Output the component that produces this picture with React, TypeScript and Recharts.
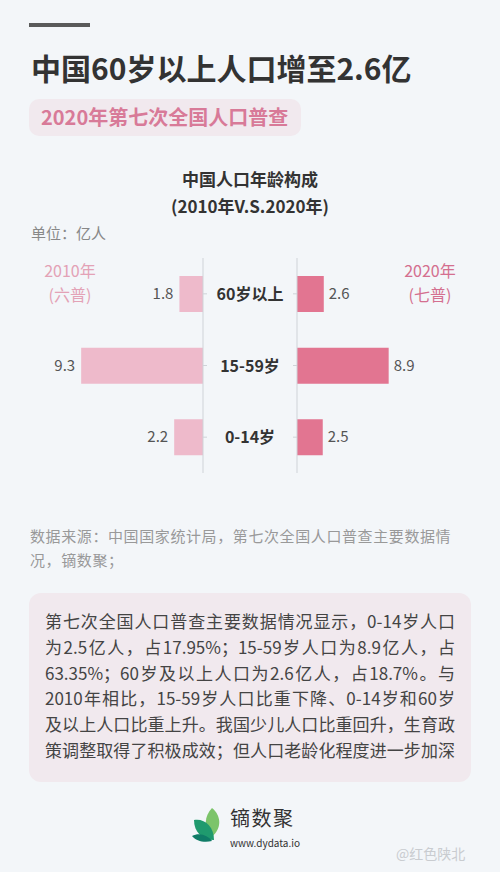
import { BarChart, Bar, XAxis, YAxis, LabelList } from "recharts";

const categories = ["60岁以上", "15-59岁", "0-14岁"];
const pop2010 = [1.8, 9.3, 2.2];
const pop2020 = [2.6, 8.9, 2.5];

const data = categories.map((name, i) => ({ name, v2010: pop2010[i], v2020: pop2020[i] }));

const descLines = [
  "第七次全国人口普查主要数据情况显示，0-14岁人口",
  "为2.5亿人，占17.95%；15-59岁人口为8.9亿人，占",
  "63.35%；60岁及以上人口为2.6亿人，占18.7%。与",
  "2010年相比，15-59岁人口比重下降、0-14岁和60岁",
  "及以上人口比重上升。我国少儿人口比重回升，生育政",
  "策调整取得了积极成效；但人口老龄化程度进一步加深",
];

const FONT = '"Noto Sans CJK SC", "Noto Sans", sans-serif';
const LIGHT = "#eebacb";
const DARK = "#e27591";

function LeftLabel(props: any) {
  const { x, y, width, height, value } = props;
  const left = Math.min(x, x + width);
  return (
    <text x={left - 6} y={y + height / 2} dy={5} textAnchor="end" fontSize={15} fill="#555" fontFamily={FONT}>
      {value}
    </text>
  );
}

function RightLabel(props: any) {
  const { x, y, width, height, value } = props;
  const right = Math.max(x, x + width);
  return (
    <text x={right + 5} y={y + height / 2} dy={5} textAnchor="start" fontSize={15} fill="#555" fontFamily={FONT}>
      {value}
    </text>
  );
}

function CenterTick(props: any) {
  const { y, payload } = props;
  return (
    <text x={250} y={y} dy={6} textAnchor="middle" fontSize={16} fontWeight={700} fill="#333" fontFamily={FONT}>
      {payload.value}
    </text>
  );
}

function Leaves() {
  return (
    <svg width={32} height={36} viewBox="0 0 32 36" style={{ position: "absolute", left: 192, top: 806 }}>
      <path d="M20 2 C30 10 30 24 18 32 C12 22 12 10 20 2 Z" fill="#7cc46a" />
      <path d="M2 14 C12 12 22 20 22 34 C10 34 2 26 2 14 Z" fill="#1f9a6e" />
      <path d="M0 30 C8 26 16 30 20 35 C12 37 4 35 0 30 Z" fill="#0f7c67" />
    </svg>
  );
}

export default function App() {
  return (
    <div
      style={{
        position: "absolute",
        left: 0,
        top: 0,
        width: 500,
        height: 872,
        background: "#f3f6f9",
        fontFamily: FONT,
        overflow: "hidden",
      }}
    >
      <div style={{ position: "absolute", left: 29, top: 23, width: 61, height: 4, background: "#5a5a5a" }} />
      <div style={{ position: "absolute", left: 31, top: 46, fontSize: 30, fontWeight: 700, color: "#333", lineHeight: "42px" }}>
        中国60岁以上人口增至2.6亿
      </div>
      <div
        style={{
          position: "absolute",
          left: 29,
          top: 99,
          width: 272,
          height: 37,
          borderRadius: 10,
          background: "#f1e9ee",
        }}
      />
      <div style={{ position: "absolute", left: 41, top: 103, fontSize: 20, fontWeight: 700, color: "#d87a98", lineHeight: "28px" }}>
        2020年第七次全国人口普查
      </div>

      <div style={{ position: "absolute", left: 0, width: 500, top: 165, textAlign: "center", fontSize: 17, fontWeight: 700, color: "#333", lineHeight: "27px" }}>
        <div>中国人口年龄构成</div>
        <div>(2010年V.S.2020年)</div>
      </div>
      <div style={{ position: "absolute", left: 31, top: 221, fontSize: 15, color: "#888", lineHeight: "24px" }}>单位：亿人</div>

      <div style={{ position: "absolute", left: 20, width: 100, top: 258, textAlign: "center", fontSize: 16, color: "#e3a2b6", lineHeight: "24px" }}>
        <div>2010年</div>
        <div>(六普)</div>
      </div>
      <div style={{ position: "absolute", left: 380, width: 100, top: 258, textAlign: "center", fontSize: 16, color: "#d46f8f", lineHeight: "24px" }}>
        <div>2020年</div>
        <div>(七普)</div>
      </div>

      <div style={{ position: "absolute", left: 0, top: 248 }}>
        <BarChart width={297} height={235} data={data} layout="vertical" margin={{ top: 10, right: 0, bottom: 10, left: 72 }}>
          <XAxis type="number" domain={[0, 10]} reversed hide />
          <YAxis
            type="category"
            dataKey="name"
            orientation="right"
            width={94}
            axisLine={{ stroke: "#cfd3d8" }}
            tickLine={{ stroke: "#cfd3d8" }}
            tickSize={4}
            tick={<CenterTick />}
          />
          <Bar dataKey="v2010" fill={LIGHT} barSize={36} isAnimationActive={false}>
            <LabelList dataKey="v2010" content={<LeftLabel />} />
          </Bar>
        </BarChart>
      </div>

      <div style={{ position: "absolute", left: 287, top: 248 }}>
        <BarChart width={213} height={235} data={data} layout="vertical" margin={{ top: 10, right: 100, bottom: 10, left: 0 }}>
          <XAxis type="number" domain={[0, 10]} hide />
          <YAxis
            type="category"
            dataKey="name"
            orientation="left"
            width={10}
            axisLine={{ stroke: "#cfd3d8" }}
            tickLine={{ stroke: "#cfd3d8" }}
            tickSize={4}
            tick={() => <g />}
          />
          <Bar dataKey="v2020" fill={DARK} barSize={36} isAnimationActive={false}>
            <LabelList dataKey="v2020" content={<RightLabel />} />
          </Bar>
        </BarChart>
      </div>

      <div style={{ position: "absolute", left: 30, top: 524, fontSize: 15, color: "#999", lineHeight: "24px", letterSpacing: 0.6 }}>
        <div>数据来源：中国国家统计局，第七次全国人口普查主要数据情</div>
        <div>况，镝数聚；</div>
      </div>

      <div
        style={{
          position: "absolute",
          left: 29,
          top: 593,
          width: 442,
          height: 189,
          borderRadius: 12,
          background: "#f1e9ee",
        }}
      />
      <div style={{ position: "absolute", left: 45, top: 608, width: 410, fontSize: 17, color: "#444", lineHeight: "25.8px" }}>
        {descLines.map((l, i) => (
          <div key={i} style={{ textAlign: "justify", textAlignLast: "justify", whiteSpace: "nowrap" }}>
            {l}
          </div>
        ))}
      </div>

      <Leaves />
      <div style={{ position: "absolute", left: 230, top: 806, fontSize: 20, color: "#333", lineHeight: "24px", letterSpacing: 1.5 }}>镝数聚</div>
      <div style={{ position: "absolute", left: 230, top: 837, fontSize: 10, color: "#333", lineHeight: "12px" }}>www.dydata.io</div>
      <div style={{ position: "absolute", left: 396, top: 843, fontSize: 14, color: "#c9ccd0", lineHeight: "20px" }}>@红色陕北</div>
    </div>
  );
}
